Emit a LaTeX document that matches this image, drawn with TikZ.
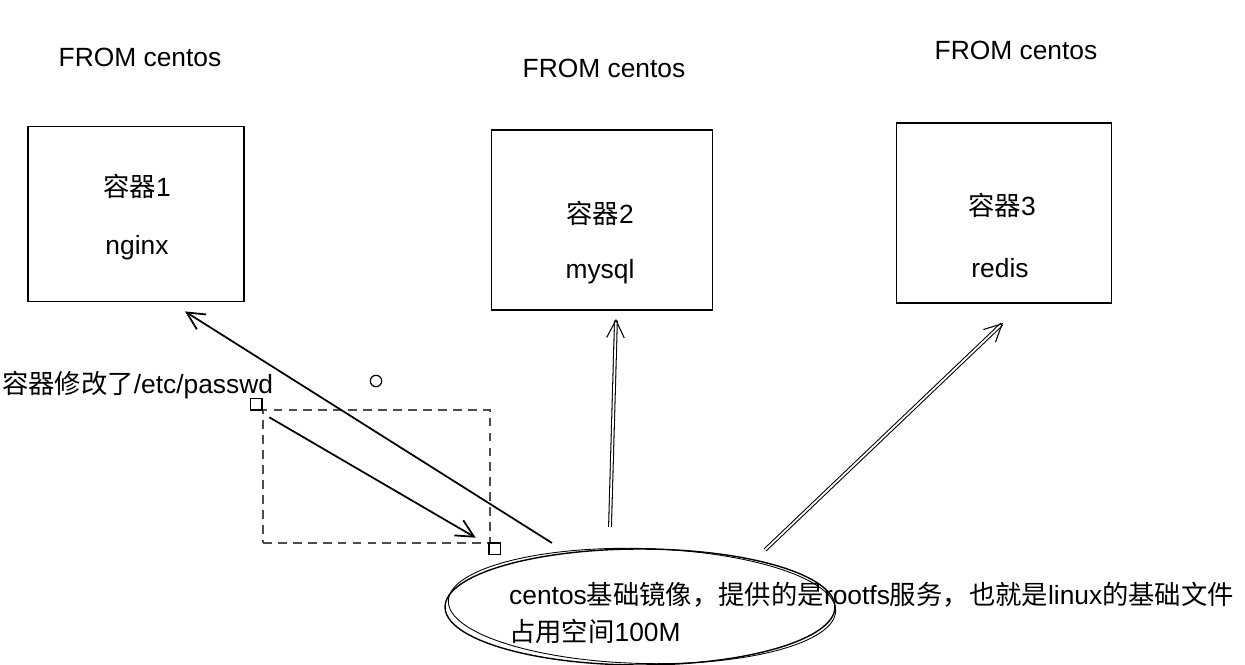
\documentclass[tikz,border=0pt]{standalone}
\usepackage{fontspec}
\setmainfont{Liberation Sans}
\newfontfamily\cjk{Noto Sans CJK SC}
\usetikzlibrary{shapes.geometric,arrows.meta}
\begin{document}
\begin{tikzpicture}[x=0.02cm,y=-0.02cm,>={Straight Barb[length=10pt,width=10pt]},
                    every node/.style={font=\fontsize{15}{21}\selectfont},
                    container/.style={draw,line width=1.1pt,inner sep=0pt},
                    link/.style={->,line width=0.6pt,double,double distance=1pt},
                    solidlink/.style={->,line width=1pt},
                    handle/.style={draw,line width=0.7pt,minimum size=6.5pt,inner sep=0pt}]

                        \useasboundingbox (0,0) rectangle (1245,665);

                        \node[container,minimum width=4.32cm,minimum height=3.5cm] (box1) at (136,214) {};
                        \node[container,minimum width=4.42cm,minimum height=3.6cm] (box2) at (602,220) {};
                        \node[container,minimum width=4.3cm,minimum height=3.6cm] (box3) at (1004,213) {};

                        \node (from1) at (140,57) {FROM centos};
                        \node (from2) at (604,68) {FROM centos};
                        \node (from3) at (1016,50) {FROM centos};

                        \node (name1) at (137,186) {{\cjk 容器}1};
                        \node (app1) at (137,248) {nginx};
                        \node (name2) at (600,213) {{\cjk 容器}2};
                        \node (app2) at (600,272) {mysql};
                        \node (name3) at (1002,205) {{\cjk 容器}3};
                        \node (app3) at (1000,268) {redis};

                        \node[draw,ellipse,line width=0.8pt,minimum width=7.8cm,minimum height=2.32cm] (base) at (640,607) {};
                        \node[draw,ellipse,line width=0.5pt,rotate=-1.5,minimum width=7.75cm,minimum height=2.3cm] (base2) at (642,606) {};
                        \node[anchor=west,align=left] (basetxt) at (503,613)
                            {centos{\cjk 基础镜像，提供的是}rootfs{\cjk 服务，也就是}linux{\cjk 的基础文件}\\{\cjk 占用空间}100M};

                        \node[anchor=west,inner sep=1pt] (note) at (0,385) {{\cjk 容器修改了}/etc/passwd};
                        \node[draw,circle,line width=0.7pt,minimum size=6.5pt,inner sep=0pt] (dot) at (376,381) {};

                        \node[draw,dash pattern=on 5pt off 3.5pt,gray!60!black,line width=0.8pt,minimum width=4.54cm,minimum height=2.66cm] (sel) at (376.5,476.5) {};
                        \node[handle] (h1) at ([shift={(-6,-5)}]sel.north west) {};
                        \node[handle] (h2) at ([shift={(4,5)}]sel.south east) {};
                        \draw[solidlink] ([shift={(7,8)}]sel.north west) -- ([shift={(-15,-6)}]sel.south east);

                        \draw[solidlink] ([shift={(-88,-64)}]base.center) -- ([shift={(49,9)}]box1.south);
                        \draw[link] ([shift={(-30,-80)}]base.center) -- ([shift={(14,8)}]box2.south);
                        \draw[link] ([shift={(125,-57)}]base.center) -- ([shift={(-1,19)}]box3.south);
                    \end{tikzpicture}
\end{document}
